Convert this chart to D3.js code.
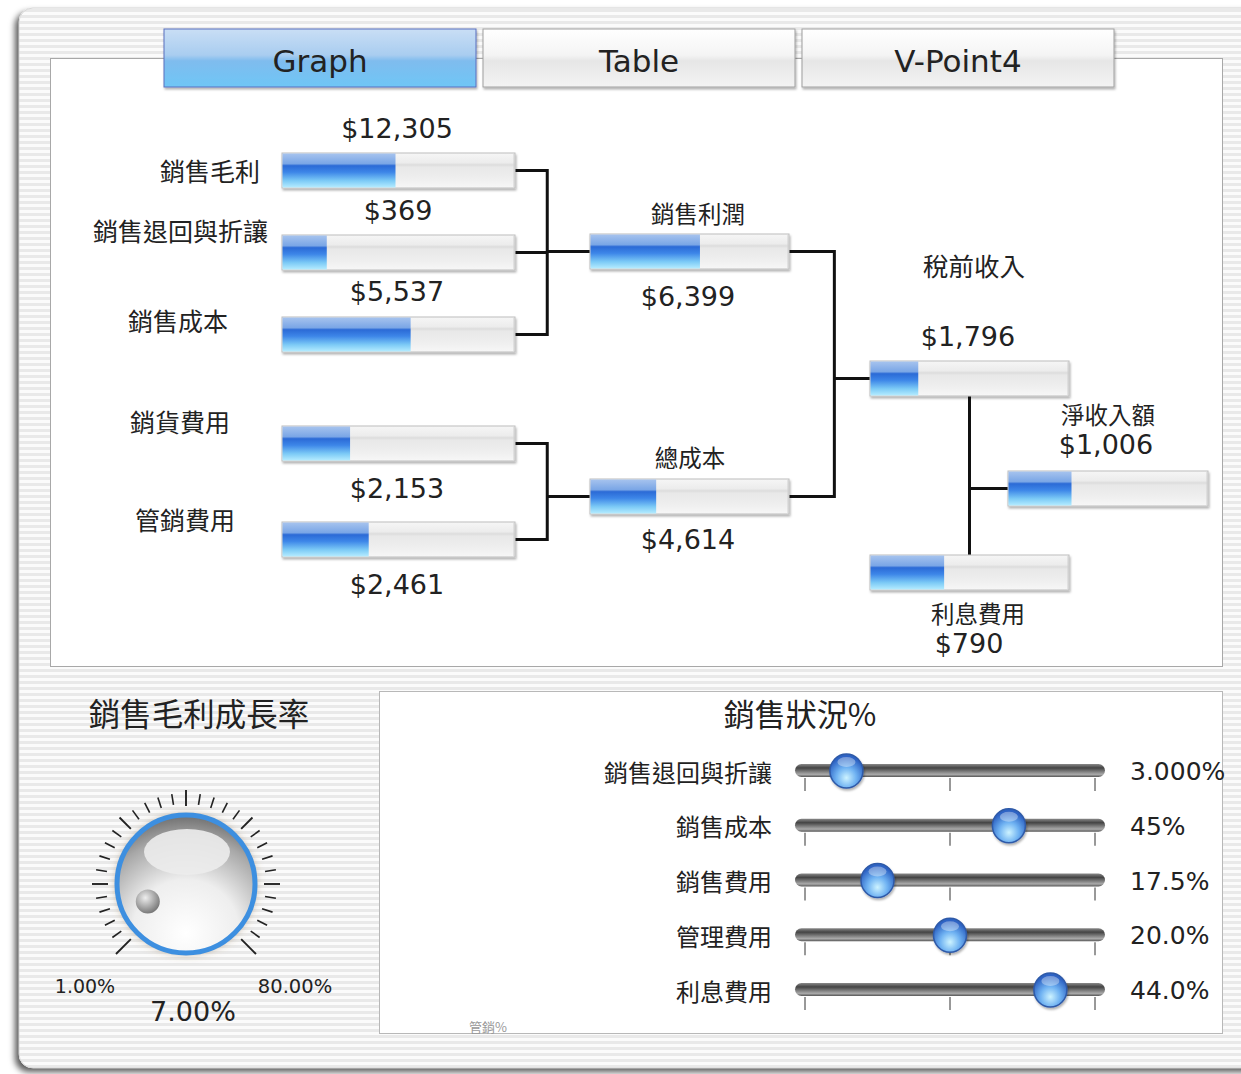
<!DOCTYPE html>
<html>
<head>
<meta charset="utf-8">
<script src="https://cdn.jsdelivr.net/npm/d3@7"></script>
<style>
html,body{margin:0;padding:0;background:#fff;}
svg{display:block;}
text{font-family:"DejaVu Sans",Verdana,sans-serif;}
.cjk{font-family:"Noto Sans CJK TC","Noto Sans CJK SC",sans-serif;}
</style>
</head>
<body>
<script>
// ---------------- DATA ----------------
const tabLabels = ["Graph", "Table", "V-Point4"];
const nodeNames = ["銷售毛利", "銷售退回與折讓", "銷售成本", "銷貨費用", "管銷費用", "銷售利潤", "總成本", "稅前收入", "淨收入額", "利息費用"];
const nodeValues = [12305, 369, 5537, 2153, 2461, 6399, 4614, 1796, 1006, 790];
const nodeGauge = [48.5, 19, 55, 29, 37, 55, 33, 24, 31.5, 37]; // gauge fill level, %
const brackets = [[0, 2, 1, 5], [3, 4, null, 6], [5, 6, null, 7]]; // top, bottom, middle, target
const dialTitle = "銷售毛利成長率";
const dialMin = 1, dialMax = 80, dialValue = 7;
const dialLabels = ["1.00%", "80.00%", "7.00%"];
const sliderTitle = "銷售狀況%";
const sliderLabels = ["銷售退回與折讓", "銷售成本", "銷售費用", "管理費用", "利息費用"];
const sliderValues = [3, 45, 17.5, 20, 44];
const sliderText = ["3.000%", "45%", "17.5%", "20.0%", "44.0%"];
const sliderMin = [0, 0, 0, 0, 0];
const sliderMax = [21, 64, 70, 40, 52];
const footNote = "管銷%";

// ---------------- LAYOUT ----------------
const W = 1241, H = 1074;
const nodeLayout = [
  {x: 282, y: 153, w: 233, lx: 260, ly: 170, la: "end", vx: 397, vy: 128},
  {x: 282, y: 235, w: 233, lx: 268, ly: 230, la: "end", vx: 398, vy: 210},
  {x: 282, y: 317, w: 233, lx: 178, ly: 320, la: "middle", vx: 397, vy: 291},
  {x: 282, y: 426, w: 233, lx: 180, ly: 421, la: "middle", vx: 397, vy: 488},
  {x: 282, y: 522, w: 233, lx: 185, ly: 519, la: "middle", vx: 397, vy: 584},
  {x: 590, y: 234, w: 199, lx: 698, ly: 213, la: "middle", vx: 688, vy: 296},
  {x: 590, y: 479, w: 199, lx: 690, ly: 457, la: "middle", vx: 688, vy: 539},
  {x: 870, y: 361, w: 199, lx: 974, ly: 264, la: "middle", vx: 968, vy: 336, big: true},
  {x: 1008, y: 471, w: 200, lx: 1108, ly: 414, la: "middle", vx: 1106, vy: 444},
  {x: 870, y: 555, w: 199, lx: 978, ly: 613, la: "middle", vx: 969, vy: 643}
];
const barH = 35;

const svg = d3.select("body").append("svg").attr("width", W).attr("height", H);
const defs = svg.append("defs");

// stripes pattern
const pat = defs.append("pattern").attr("id", "stripes").attr("width", 8).attr("height", 6)
  .attr("patternUnits", "userSpaceOnUse");
pat.append("rect").attr("width", 8).attr("height", 6).attr("fill", "#fbfbfb");
pat.append("rect").attr("y", 3).attr("width", 8).attr("height", 3).attr("fill", "#e9e9e9");

function linGrad(id, stops, vertical = true) {
  const g = defs.append("linearGradient").attr("id", id)
    .attr("x1", 0).attr("y1", 0).attr("x2", vertical ? 0 : 1).attr("y2", vertical ? 1 : 0);
  stops.forEach(s => g.append("stop").attr("offset", s[0]).attr("stop-color", s[1]));
  return g;
}
linGrad("gBar", [[0, "#f6f6f6"], [0.28, "#ececec"], [0.34, "#dcdcdc"], [0.4, "#e8e8e8"], [0.75, "#efefef"], [1, "#f7f7f7"]]);
linGrad("gBlue", [[0, "#a6c3ee"], [0.3, "#7aa6e6"], [0.36, "#2b6ad6"], [0.55, "#3d86e8"], [0.8, "#7ccaf6"], [1, "#b5ecff"]]);
linGrad("gTabOn", [[0, "#c9def5"], [0.45, "#a9cdf0"], [0.55, "#7fbcee"], [1, "#6ec6f6"]]);
linGrad("gTabOff", [[0, "#ffffff"], [0.45, "#f4f4f4"], [0.55, "#e6e6e6"], [1, "#f3f3f3"]]);
linGrad("gTrack", [[0, "#8a8a8a"], [0.3, "#444"], [0.55, "#777"], [0.8, "#aaa"], [1, "#555"]]);
const rk = defs.append("radialGradient").attr("id", "gKnob").attr("cx", "50%").attr("cy", "70%").attr("r", "60%");
rk.append("stop").attr("offset", 0).attr("stop-color", "#cdf3ff");
rk.append("stop").attr("offset", 0.5).attr("stop-color", "#6fb2f2");
rk.append("stop").attr("offset", 1).attr("stop-color", "#2d63c4");
const rd = defs.append("radialGradient").attr("id", "gDial").attr("cx", "50%").attr("cy", "85%").attr("r", "85%");
rd.append("stop").attr("offset", 0).attr("stop-color", "#ffffff");
rd.append("stop").attr("offset", 0.45).attr("stop-color", "#eeeeee");
rd.append("stop").attr("offset", 0.8).attr("stop-color", "#a8a8a8");
rd.append("stop").attr("offset", 1).attr("stop-color", "#6c6c6c");
const rdot = defs.append("radialGradient").attr("id", "gDot").attr("cx", "40%").attr("cy", "35%").attr("r", "65%");
rdot.append("stop").attr("offset", 0).attr("stop-color", "#eeeeee");
rdot.append("stop").attr("offset", 1).attr("stop-color", "#7a7a7a");

const fShadow = defs.append("filter").attr("id", "shadow").attr("x", "-10%").attr("y", "-10%").attr("width", "120%").attr("height", "140%");
fShadow.append("feDropShadow").attr("dx", 1).attr("dy", 2).attr("stdDeviation", 1.2).attr("flood-color", "#000").attr("flood-opacity", 0.3);
const fFrame = defs.append("filter").attr("id", "frameShadow").attr("x", "-5%").attr("y", "-5%").attr("width", "110%").attr("height", "110%");
fFrame.append("feDropShadow").attr("dx", -4).attr("dy", 4).attr("stdDeviation", 3).attr("flood-color", "#000").attr("flood-opacity", 0.65);
const fGlow = defs.append("filter").attr("id", "glow").attr("x", "-30%").attr("y", "-30%").attr("width", "160%").attr("height", "160%");
fGlow.append("feDropShadow").attr("dx", 0).attr("dy", 0).attr("stdDeviation", 4).attr("flood-color", "#8a6a40").attr("flood-opacity", 0.5);

// ---------------- FRAME ----------------
svg.append("rect").attr("x", 19).attr("y", 8).attr("width", W + 20).attr("height", 1060).attr("rx", 14)
  .attr("fill", "url(#stripes)").attr("filter", "url(#frameShadow)");
svg.append("rect").attr("x", 19).attr("y", 8).attr("width", W + 20).attr("height", 1060).attr("rx", 14)
  .attr("fill", "url(#stripes)").attr("stroke", "#d8d8d8");

// inner main panel
svg.append("rect").attr("x", 50.5).attr("y", 58.5).attr("width", 1172).attr("height", 608)
  .attr("fill", "#fff").attr("stroke", "#a8a8a8");

// tabs
const tabX = d3.scaleBand().domain(tabLabels).range([164, 1114]).paddingInner(0.022).paddingOuter(0);
const tabs = svg.append("g").selectAll("g").data(tabLabels).join("g")
  .attr("transform", d => `translate(${tabX(d)},29)`);
tabs.append("rect").attr("width", tabX.bandwidth()).attr("height", 58)
  .attr("fill", (d, i) => i === 0 ? "url(#gTabOn)" : "url(#gTabOff)")
  .attr("stroke", (d, i) => i === 0 ? "#5a70c0" : "#a0a0a0").attr("filter", "url(#shadow)");
tabs.append("text").attr("x", tabX.bandwidth() / 2).attr("y", 43).attr("text-anchor", "middle")
  .attr("font-size", 31).attr("fill", "#222").text(d => d);

// ---------------- BRACKET GRAPH ----------------
const fmt = d3.format("$,");
const gauge = d3.scaleLinear().domain([0, 100]);
const nodes = nodeNames.map((n, i) => ({name: n, value: nodeValues[i], level: nodeGauge[i], ...nodeLayout[i]}));
const linkG = svg.append("g").attr("fill", "none").attr("stroke", "#111").attr("stroke-width", 3);
brackets.forEach(([a, b, m, t]) => {
  const A = nodes[a], B = nodes[b], T = nodes[t];
  const ya = A.y + barH / 2, yb = B.y + barH / 2, yt = T.y + barH / 2;
  const xr = A.x + A.w;
  const xm = xr + (T.x - xr) * (a < 5 ? 0.43 : 0.56);
  const path = d3.path();
  path.moveTo(xr, ya); path.lineTo(xm, ya); path.lineTo(xm, yb); path.lineTo(xr, yb);
  path.moveTo(xm, yt); path.lineTo(T.x, yt);
  if (m !== null) { const M = nodes[m]; path.moveTo(M.x + M.w, M.y + barH / 2); path.lineTo(xm, M.y + barH / 2); }
  linkG.append("path").attr("d", path.toString());
});
// pre-tax income split
{
  const P = nodes[7], N = nodes[8], I = nodes[9];
  const xv = P.x + P.w / 2;
  const p = d3.path();
  p.moveTo(xv, P.y + barH); p.lineTo(xv, I.y);
  p.moveTo(xv, N.y + barH / 2); p.lineTo(N.x, N.y + barH / 2);
  linkG.append("path").attr("d", p.toString());
}

const ng = svg.append("g").selectAll("g").data(nodes).join("g")
  .attr("transform", d => `translate(${d.x},${d.y})`);
ng.append("rect").attr("width", d => d.w).attr("height", barH).attr("fill", "url(#gBar)")
  .attr("stroke", "#bdbdbd").attr("filter", "url(#shadow)");
ng.append("rect").attr("x", 0.5).attr("y", 0.5)
  .attr("width", d => gauge.copy().range([0, d.w])(d.level)).attr("height", barH - 1)
  .attr("fill", "url(#gBlue)");
ng.append("line").attr("x1", d => d.w - 1).attr("x2", d => d.w - 1).attr("y1", 1).attr("y2", barH - 1)
  .attr("stroke", "#d0d0d0");

const labelG = svg.append("g");
labelG.selectAll("text.lab").data(nodes).join("text").attr("class", "lab cjk")
  .attr("x", d => d.lx).attr("y", d => d.ly).attr("text-anchor", d => d.la)
  .attr("dominant-baseline", "central").attr("font-size", (d, i) => d.big ? 25.5 : (i < 5 ? 25 : 23.5)).attr("fill", "#222")
  .text(d => d.name);
labelG.selectAll("text.val").data(nodes).join("text").attr("class", "val")
  .attr("x", d => d.vx).attr("y", d => d.vy + 9.5).attr("text-anchor", "middle")
  .attr("font-size", 27).attr("fill", "#222").text(d => fmt(d.value));

// ---------------- DIAL ----------------
const dial = svg.append("g").attr("transform", "translate(186,884)");
svg.append("text").attr("class", "cjk").attr("x", 199).attr("y", 712).attr("text-anchor", "middle")
  .attr("dominant-baseline", "central").attr("font-size", 31.5).attr("fill", "#222").text(dialTitle);
const ang = d3.scaleLinear().domain([dialMin, dialMax]).range([-135, 135]);
const tickVals = d3.range(0, 31).map(i => dialMin + (dialMax - dialMin) * i / 30);
dial.selectAll("line.tk").data(tickVals).join("line").attr("class", "tk")
  .each(function (d, i) {
    const a = ang(d) * Math.PI / 180;
    const major = i % 5 === 0;
    const r0 = major ? 78 : 80, r1 = major ? (Math.abs(ang(d)) > 120 ? 99 : 94) : 91;
    d3.select(this).attr("x1", r0 * Math.sin(a)).attr("y1", -r0 * Math.cos(a))
      .attr("x2", r1 * Math.sin(a)).attr("y2", -r1 * Math.cos(a));
  })
  .attr("stroke", "#222").attr("stroke-width", (d, i) => i % 5 === 0 ? 1.9 : 1.6);
dial.append("circle").attr("r", 70).attr("fill", "url(#gDial)").attr("filter", "url(#glow)");
dial.append("circle").attr("r", 69).attr("fill", "none").attr("stroke", "#3d8fe0").attr("stroke-width", 5);
dial.append("ellipse").attr("cx", 1).attr("cy", -32).attr("rx", 43).attr("ry", 23).attr("fill", "#ececec").attr("opacity", 0.9);
{
  const a = ang(dialValue) * Math.PI / 180;
  dial.append("circle").attr("cx", 42 * Math.sin(a)).attr("cy", -42 * Math.cos(a)).attr("r", 12).attr("fill", "url(#gDot)");
}
svg.append("text").attr("x", 85).attr("y", 993).attr("text-anchor", "middle").attr("font-size", 19).attr("fill", "#222").text(dialLabels[0]);
svg.append("text").attr("x", 295).attr("y", 993).attr("text-anchor", "middle").attr("font-size", 19.5).attr("fill", "#222").text(dialLabels[1]);
svg.append("text").attr("x", 193).attr("y", 1021).attr("text-anchor", "middle").attr("font-size", 27).attr("fill", "#222").text(dialLabels[2]);

// ---------------- SLIDERS ----------------
svg.append("rect").attr("x", 379.5).attr("y", 691.5).attr("width", 843).attr("height", 342)
  .attr("fill", "#fff").attr("stroke", "#b8b8b8");
svg.append("text").attr("class", "cjk").attr("x", 800).attr("y", 712).attr("text-anchor", "middle")
  .attr("dominant-baseline", "central").attr("font-size", 31).attr("fill", "#222").text(sliderTitle);
const rowY = d3.scalePoint().domain(sliderLabels).range([771, 990]);
const sg = svg.append("g").selectAll("g").data(sliderLabels).join("g")
  .attr("transform", d => `translate(0,${rowY(d)})`);
sg.append("rect").attr("x", 795).attr("y", -7).attr("width", 310).attr("height", 13).attr("rx", 6.5)
  .attr("fill", "url(#gTrack)");
sg.each(function (d, i) {
  const x = d3.scaleLinear().domain([sliderMin[i], sliderMax[i]]).range([805, 1095]);
  const g = d3.select(this);
  g.selectAll("line").data([0, 0.5, 1]).join("line")
    .attr("x1", t => x(sliderMin[i] + t * (sliderMax[i] - sliderMin[i])))
    .attr("x2", t => x(sliderMin[i] + t * (sliderMax[i] - sliderMin[i])))
    .attr("y1", 7).attr("y2", 20).attr("stroke", "#333").attr("stroke-width", 1);
  g.append("ellipse").attr("cx", x(sliderValues[i])).attr("cy", 0).attr("rx", 16.5).attr("ry", 17)
    .attr("fill", "url(#gKnob)").attr("stroke", "#2f5aa8").attr("stroke-width", 1.5).attr("filter", "url(#shadow)");
  g.append("ellipse").attr("cx", x(sliderValues[i])).attr("cy", -9).attr("rx", 9).attr("ry", 5)
    .attr("fill", "#ffffff").attr("opacity", 0.35);
});
sg.append("text").attr("class", "cjk").attr("x", 772).attr("y", 0).attr("text-anchor", "end")
  .attr("dominant-baseline", "central").attr("font-size", 24).attr("fill", "#222").text(d => d);
sg.append("text").attr("x", 1130).attr("y", 9).attr("font-size", 25).attr("fill", "#222")
  .text((d, i) => sliderText[i]);
svg.append("text").attr("class", "cjk").attr("x", 488).attr("y", 1026).attr("text-anchor", "middle")
  .attr("dominant-baseline", "central").attr("font-size", 13).attr("fill", "#999").text(footNote);
</script>
</body>
</html>
